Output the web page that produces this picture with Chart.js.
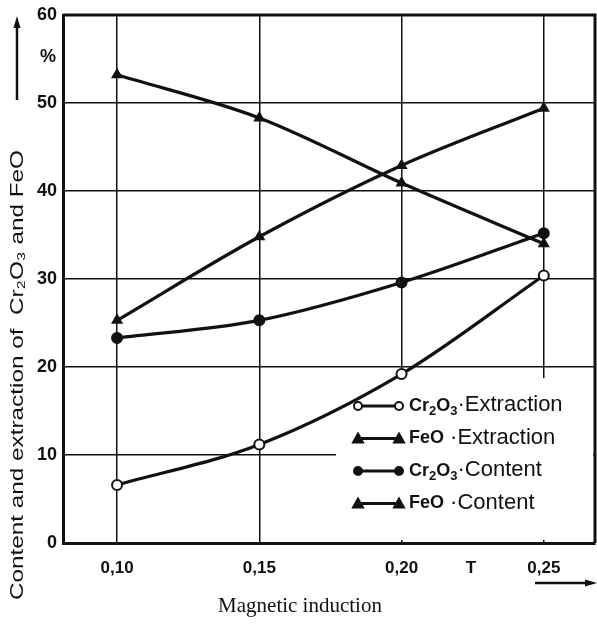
<!DOCTYPE html>
<html>
<head>
<meta charset="utf-8">
<script src="https://cdn.jsdelivr.net/npm/chart.js@4"></script>
<style>
  html, body { margin: 0; padding: 0; background: #fff; }
  #wrap { width: 597px; height: 625px; }
</style>
</head>
<body>
<div id="wrap"><canvas id="chart" width="597" height="625"></canvas></div>
<script>
// Magnetic induction, T
const inductionT = [0.10, 0.15, 0.20, 0.25];
const tickLabels = ['0,10', '0,15', '0,20', '0,25'];

// Values in %
const cr2o3Extraction = [6.6, 11.2, 19.2, 30.4];
const feoExtraction = [25.3, 34.8, 42.9, 49.4];
const cr2o3Content = [23.3, 25.3, 29.6, 35.2];
const feoContent = [53.2, 48.3, 40.9, 34.0];

const formulas = ['Cr₂O₃', 'FeO', 'Cr₂O₃', 'FeO'];
const kinds = ['·Extraction', ' ·Extraction', '·Content', ' ·Content'];

const INK = '#111';
const narrow = "'Liberation Sans Narrow', 'Liberation Sans', Arial, sans-serif";

function toPoints(ys) {
    return inductionT.map((x, i) => ({ x: x, y: ys[i] }));
}

function series(label, ys, style, fill) {
    return {
        label: label,
        data: toPoints(ys),
        borderColor: INK,
        borderWidth: 3.2,
        pointStyle: style,
        pointRadius: 5,
        pointBorderWidth: 2,
        pointBackgroundColor: fill,
        pointBorderColor: INK,
        cubicInterpolationMode: 'monotone',
        fill: false
    };
}

// Draw a glyph like the chart markers (legend)
function marker(ctx, style, fill, x, y) {
    ctx.save();
    ctx.fillStyle = fill;
    ctx.strokeStyle = INK;
    ctx.lineWidth = 2;
    ctx.beginPath();
    if (style === 'triangle') {
        ctx.moveTo(x, y - 5);
        ctx.lineTo(x + 5, y + 4);
        ctx.lineTo(x - 5, y + 4);
        ctx.closePath();
    } else {
        ctx.arc(x, y, 4, 0, Math.PI * 2);
    }
    ctx.fill();
    ctx.stroke();
    ctx.restore();
}

// draws formula text with lowered, smaller digits
function formula(ctx, txt, x, y, size) {
    const sub = { '₂': '2', '₃': '3' };
    let cx = x;
    for (const ch of txt) {
        if (sub[ch]) {
            ctx.font = 'bold ' + Math.round(size * 0.7) + 'px ' + narrow;
            ctx.fillText(sub[ch], cx, y + size * 0.3);
            cx += ctx.measureText(sub[ch]).width;
        } else {
            ctx.font = 'bold ' + size + 'px ' + narrow;
            ctx.fillText(ch, cx, y);
            cx += ctx.measureText(ch).width;
        }
    }
    return cx - x;
}

const legendBox = { x: 336, y: 378 };

const decorations = {
    id: 'decorations',
    beforeDatasetsDraw(chart) {
        const ctx = chart.ctx;
        const a = chart.chartArea;
        ctx.save();
        ctx.fillStyle = '#fff';
        ctx.fillRect(legendBox.x, legendBox.y, a.right - legendBox.x - 2, a.bottom - legendBox.y - 3);
        ctx.restore();
    },
    afterDraw(chart) {
        const ctx = chart.ctx;
        const a = chart.chartArea;
        const yS = chart.scales.y;
        ctx.save();

        // frame top / right
        ctx.strokeStyle = INK;
        ctx.lineWidth = 3;
        ctx.beginPath();
        ctx.moveTo(a.left, a.top);
        ctx.lineTo(a.right, a.top);
        ctx.lineTo(a.right, a.bottom);
        ctx.stroke();

        // legend entries
        const styles = ['circle', 'triangle', 'circle', 'triangle'];
        const fills = ['#fff', INK, INK, INK];
        chart.data.datasets.forEach((ds, i) => {
            const ry = 406 + i * 32.5;
            ctx.strokeStyle = INK;
            ctx.lineWidth = 3;
            ctx.beginPath();
            ctx.moveTo(359, ry);
            ctx.lineTo(398, ry);
            ctx.stroke();
            marker(ctx, styles[i], fills[i], 358, ry);
            marker(ctx, styles[i], fills[i], 399, ry);
            ctx.fillStyle = INK;
            ctx.textBaseline = 'middle';
            ctx.textAlign = 'left';
            const fw = formula(ctx, formulas[i], 409, ry, 18);
            ctx.font = "22px 'Liberation Sans', Arial, sans-serif";
            ctx.fillText(kinds[i], 409 + fw, ry - 1);
        });

        // percent sign on y axis
        ctx.fillStyle = INK;
        ctx.font = 'bold 18px ' + narrow;
        ctx.textAlign = 'right';
        ctx.textBaseline = 'middle';
        ctx.fillText('%', 56, yS.getPixelForValue(55.2));

        // y axis title, rotated
        ctx.save();
        ctx.translate(18, 375);
        ctx.rotate(-Math.PI / 2);
        ctx.font = "19px 'Liberation Sans', Arial, sans-serif";
        ctx.textAlign = 'center';
        ctx.textBaseline = 'middle';
        const yt = 'Content and extraction of  Cr₂O₃ and FeO';
        const w = ctx.measureText(yt).width;
        ctx.scale(450 / w, 1);
        ctx.fillText(yt, 0, 0);
        ctx.restore();

        // y axis arrow
        ctx.strokeStyle = INK;
        ctx.lineWidth = 2.5;
        ctx.beginPath();
        ctx.moveTo(17, 100);
        ctx.lineTo(17, 24);
        ctx.stroke();
        ctx.beginPath();
        ctx.moveTo(17, 16);
        ctx.lineTo(13.5, 28);
        ctx.lineTo(20.5, 28);
        ctx.closePath();
        ctx.fillStyle = INK;
        ctx.fill();

        // unit "T" on x axis
        ctx.font = 'bold 17px ' + narrow;
        ctx.textAlign = 'center';
        ctx.textBaseline = 'middle';
        ctx.fillText('T', 471, 568);

        // x axis title
        ctx.font = "21px 'Liberation Serif', 'Times New Roman', serif";
        ctx.textAlign = 'center';
        ctx.textBaseline = 'middle';
        ctx.fillText('Magnetic induction', 300, 606);

        // x axis arrow
        ctx.beginPath();
        ctx.moveTo(535, 583);
        ctx.lineTo(588, 583);
        ctx.stroke();
        ctx.beginPath();
        ctx.moveTo(597, 583);
        ctx.lineTo(585, 579.5);
        ctx.lineTo(585, 586.5);
        ctx.closePath();
        ctx.fill();

        ctx.restore();
    }
};

new Chart(document.getElementById('chart').getContext('2d'), {
    type: 'line',
    data: {
        datasets: [
            series('Cr₂O₃ Extraction', cr2o3Extraction, 'circle', '#fff'),
            series('FeO Extraction', feoExtraction, 'triangle', INK),
            series('Cr₂O₃ Content', cr2o3Content, 'circle', INK),
            series('FeO Content', feoContent, 'triangle', INK)
        ]
    },
    options: {
        responsive: false,
        animation: false,
        layout: { autoPadding: false, padding: { top: 15, right: 2, left: 0, bottom: 0 } },
        plugins: {
            legend: { display: false },
            tooltip: { enabled: false }
        },
        scales: {
            x: {
                type: 'linear',
                min: 0.081,
                max: 0.268,
                afterBuildTicks: function(scale) {
                    scale.ticks = inductionT.map(v => ({ value: v }));
                },
                afterFit: function(scale) {
                    scale.height = 82;
                    scale.paddingLeft = 0;
                    scale.paddingRight = 0;
                },
                ticks: {
                    color: INK,
                    font: { family: narrow, size: 17, weight: 'bold' },
                    padding: 15,
                    maxRotation: 0,
                    callback: function(v) {
                        const i = inductionT.indexOf(v);
                        return i >= 0 ? tickLabels[i] : '';
                    }
                },
                grid: { color: INK, lineWidth: 1.5, drawTicks: false },
                border: { color: INK, width: 3 }
            },
            y: {
                min: 0,
                max: 60,
                afterFit: function(scale) {
                    scale.width = 63;
                    scale.paddingTop = 0;
                    scale.paddingBottom = 0;
                },
                ticks: {
                    stepSize: 10,
                    color: INK,
                    font: { family: narrow, size: 18, weight: 'bold' },
                    padding: 6
                },
                grid: { color: INK, lineWidth: 1.5, drawTicks: false },
                border: { color: INK, width: 3 }
            }
        }
    },
    plugins: [decorations]
});
</script>
</body>
</html>
